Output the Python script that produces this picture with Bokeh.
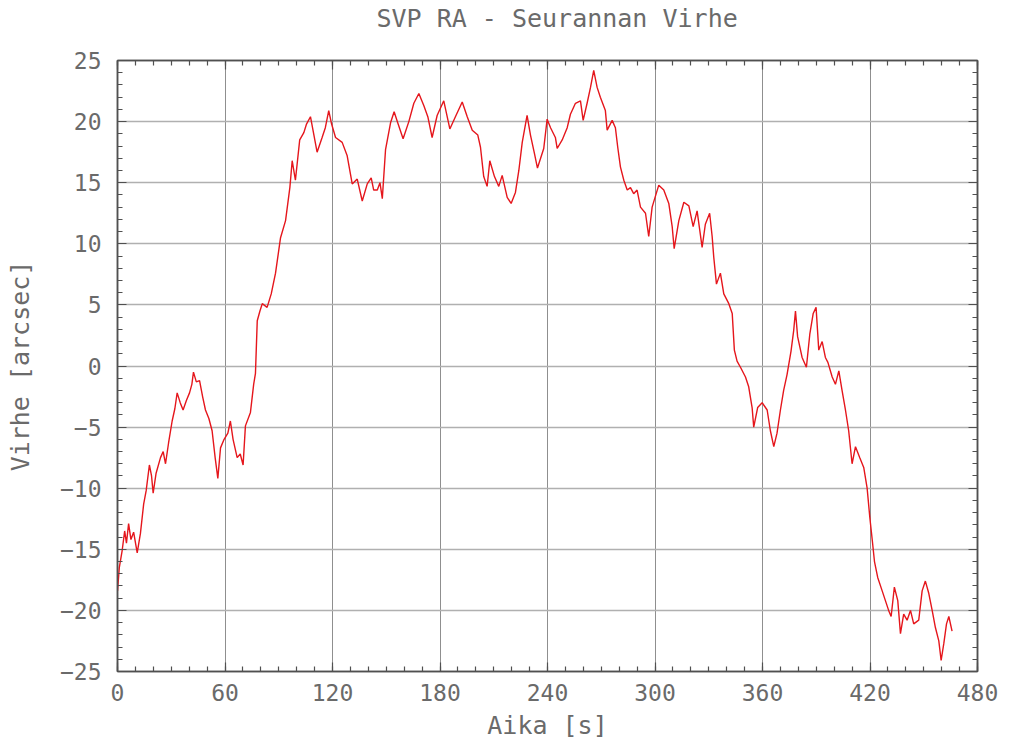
from bokeh.plotting import figure
from bokeh.models import LinearAxis, SingleIntervalTicker, Range1d, CustomLabelingPolicy
from bokeh.embed import file_html
from bokeh.resources import INLINE

# --- data (time [s], error [arcsec]) ---
aika = [0, 1.0, 2.6, 4.0, 5.0, 6.2, 7.5, 9.0, 11.0, 12.8, 14.6, 16.0, 17.8, 19.0, 19.9,
        21.5, 24.0, 25.5, 26.8, 28.5, 30.5, 32.0, 33.3, 35.0, 36.6, 38.5, 40.2, 41.5,
        42.4, 44.0, 45.8, 47.5, 49.1, 51.0, 52.8, 54.5, 56.0, 57.5, 59.5, 61.6, 63.0,
        64.5, 66.8, 68.5, 70.1, 71.4, 74.2, 76.0, 77.0, 78.0, 79.5, 80.8, 83.5, 85.8,
        88.2, 91.0, 93.8, 96.2, 97.5, 99.3, 101.7, 104.0, 105.5, 107.7, 109.5, 111.4,
        114.2, 116.0, 117.9, 119.5, 121.7, 125.4, 128.2, 131.0, 133.8, 136.6, 139.4,
        141.6, 143.0, 145.0, 146.5, 147.8, 149.6, 152.4, 154.4, 156.4, 159.4, 162.6,
        165.4, 168.2, 171.0, 173.2, 175.6, 178.4, 182.1, 185.5, 188.6, 192.4, 195.2,
        198.0, 201.1, 202.6, 204.4, 206.3, 207.8, 210.4, 212.8, 214.7, 217.5, 219.7,
        222.1, 224.0, 225.9, 228.6, 230.5, 232.7, 234.4, 237.9, 239.8, 241.7, 244.4,
        245.4, 248.2, 251.0, 252.8, 255.6, 258.4, 259.9, 262.1, 264.0, 265.8, 267.7,
        269.5, 272.3, 273.3, 276.1, 277.9, 279.2, 280.7, 282.6, 284.5, 286.3, 288.1,
        290.0, 291.9, 294.7, 296.5, 298.4, 302.1, 304.9, 307.7, 309.6, 310.7, 313.3,
        316.1, 318.9, 321.3, 323.5, 326.3, 328.1, 330.5, 331.9, 332.8, 334.3, 336.5,
        338.4, 341.2, 343.1, 344.3, 345.8, 347.7, 350.5, 352.3, 354.2, 355.1, 357.3,
        359.8, 362.6, 364.4, 366.3, 368.1, 370.0, 371.8, 373.7, 375.9, 377.4, 378.4,
        379.6, 382.1, 384.5, 386.4, 388.3, 389.9, 391.4, 393.3, 395.1, 396.5, 398.9,
        400.7, 402.6, 404.4, 406.3, 408.1, 410.0, 411.9, 414.3, 416.5, 418.4, 419.9,
        421.3, 422.5, 424.3, 426.8, 428.6, 430.4, 431.8, 433.6, 435.5, 437.0, 438.8,
        440.7, 442.6, 444.4, 447.2, 449.1, 450.9, 452.8, 454.7, 456.5, 458.4, 459.7,
        461.2, 462.7, 464.0, 465.8]
virhe = [-18.4, -16.5, -15.1, -13.5, -14.5, -12.9, -14.2, -13.6, -15.3, -13.7, -11.3,
         -10.2, -8.1, -9.0, -10.4, -8.8, -7.5, -7.0, -8.0, -6.3, -4.5, -3.5, -2.2, -3.0,
         -3.6, -2.8, -2.2, -1.5, -0.5, -1.3, -1.2, -2.5, -3.6, -4.3, -5.3, -7.5, -9.2,
         -6.7, -6.0, -5.5, -4.5, -6.0, -7.5, -7.2, -8.1, -4.9, -3.8, -1.5, -0.6, 3.7,
         4.5, 5.1, 4.8, 5.9, 7.6, 10.5, 11.9, 14.6, 16.8, 15.2, 18.5, 19.1, 19.8, 20.4,
         19.0, 17.5, 18.7, 19.5, 20.9, 19.8, 18.7, 18.3, 17.2, 14.9, 15.3, 13.5, 14.9,
         15.4, 14.4, 14.4, 15.0, 13.7, 17.7, 19.9, 20.8, 19.9, 18.6, 20.0, 21.5, 22.3,
         21.3, 20.4, 18.7, 20.5, 21.7, 19.4, 20.4, 21.6, 20.4, 19.3, 18.9, 17.9, 15.5,
         14.7, 16.8, 15.5, 14.7, 15.6, 13.8, 13.3, 14.2, 16.0, 18.3, 20.5, 18.9, 17.4,
         16.2, 17.8, 20.2, 19.5, 18.7, 17.8, 18.5, 19.5, 20.6, 21.5, 21.7, 20.1, 21.5,
         22.8, 24.2, 22.8, 22.0, 20.9, 19.3, 20.1, 19.5, 17.9, 16.3, 15.2, 14.4, 14.6,
         14.1, 14.4, 13.0, 12.5, 10.6, 13.0, 14.8, 14.4, 13.3, 11.4, 9.6, 11.9, 13.4,
         13.1, 11.4, 12.7, 9.7, 11.6, 12.5, 10.6, 8.9, 6.7, 7.6, 5.9, 5.1, 4.3, 1.3, 0.4,
         -0.1, -0.9, -1.7, -3.4, -5.0, -3.4, -3.0, -3.6, -5.3, -6.6, -5.5, -3.6, -2.0,
         -0.7, 1.2, 2.9, 4.5, 2.4, 0.7, -0.1, 2.6, 4.3, 4.8, 1.3, 2.0, 0.7, 0.3, -0.9,
         -1.5, -0.4, -2.0, -3.6, -5.3, -8.0, -6.6, -7.5, -8.3, -10.0, -12.4, -14.3,
         -16.0, -17.3, -18.4, -19.2, -20.0, -20.5, -18.1, -19.2, -21.9, -20.3, -20.8,
         -20.0, -21.1, -20.8, -18.4, -17.6, -18.6, -20.0, -21.4, -22.5, -24.1, -22.7,
         -21.1, -20.5, -21.7]

title_text = "SVP RA - Seurannan Virhe"
x_label = "Aika [s]"
y_label = "Virhe [arcsec]"

FONT = "DejaVu Sans Mono"
TXT = "#6a6a6a"
AX = "#505050"

p = figure(width=1014, height=749, x_range=Range1d(0, 480), y_range=Range1d(-25, 25),
           output_backend="svg", toolbar_location=None,
           min_border_left=117, min_border_right=37, min_border_top=60, min_border_bottom=78)
p.background_fill_color = "white"
p.border_fill_color = "white"
p.outline_line_color = AX
p.outline_line_width = 1.5

p.title.text = title_text
p.title.align = "left"
p.title.offset = 259
p.title.text_font = FONT
p.title.text_font_size = "25px"
p.title.text_font_style = "normal"
p.title.text_color = TXT
p.title.standoff = 2

p.line(aika, virhe, color="#e5161c", line_width=1.4)

xt = SingleIntervalTicker(interval=60, num_minor_ticks=6)
yt = SingleIntervalTicker(interval=5, num_minor_ticks=5)

def style(ax):
    ax.axis_line_color = AX
    ax.axis_line_width = 1.5
    ax.major_tick_in = 9
    ax.major_tick_out = 0
    ax.minor_tick_in = 5
    ax.minor_tick_out = 0
    ax.major_tick_line_color = AX
    ax.minor_tick_line_color = AX
    ax.major_tick_line_width = 1.2
    ax.minor_tick_line_width = 1.2
    ax.major_label_text_font = FONT
    ax.major_label_text_color = TXT
    ax.major_label_text_font_size = "23px"
    ax.axis_label_text_font = FONT
    ax.axis_label_text_font_size = "25px"
    ax.axis_label_text_font_style = "normal"
    ax.axis_label_text_color = TXT

p.xaxis.ticker = xt
p.yaxis.ticker = yt
p.xaxis.axis_label = x_label
p.yaxis.axis_label = y_label
style(p.xaxis[0])
style(p.yaxis[0])
p.xaxis.major_label_standoff = 12
p.xaxis.axis_label_standoff = 7
p.yaxis.major_label_standoff = 16
p.yaxis.axis_label_standoff = 22

for loc, tk, gap in (("right", SingleIntervalTicker(interval=5, num_minor_ticks=5), 0),
                     ("above", SingleIntervalTicker(interval=60, num_minor_ticks=6), 23)):
    ax = LinearAxis(ticker=tk)
    style(ax)
    ax.major_label_text_font_size = "1px"
    ax.major_label_standoff = gap
    ax.major_label_policy = CustomLabelingPolicy(code="return new Set()")
    p.add_layout(ax, loc)

p.xgrid.ticker = xt
p.ygrid.ticker = yt
p.xgrid.grid_line_color = "#8f8f8f"
p.xgrid.grid_line_width = 1
p.ygrid.grid_line_color = "#b0b0b0"
p.ygrid.grid_line_width = 1.5

open("out.html", "w").write(file_html(p, INLINE))
